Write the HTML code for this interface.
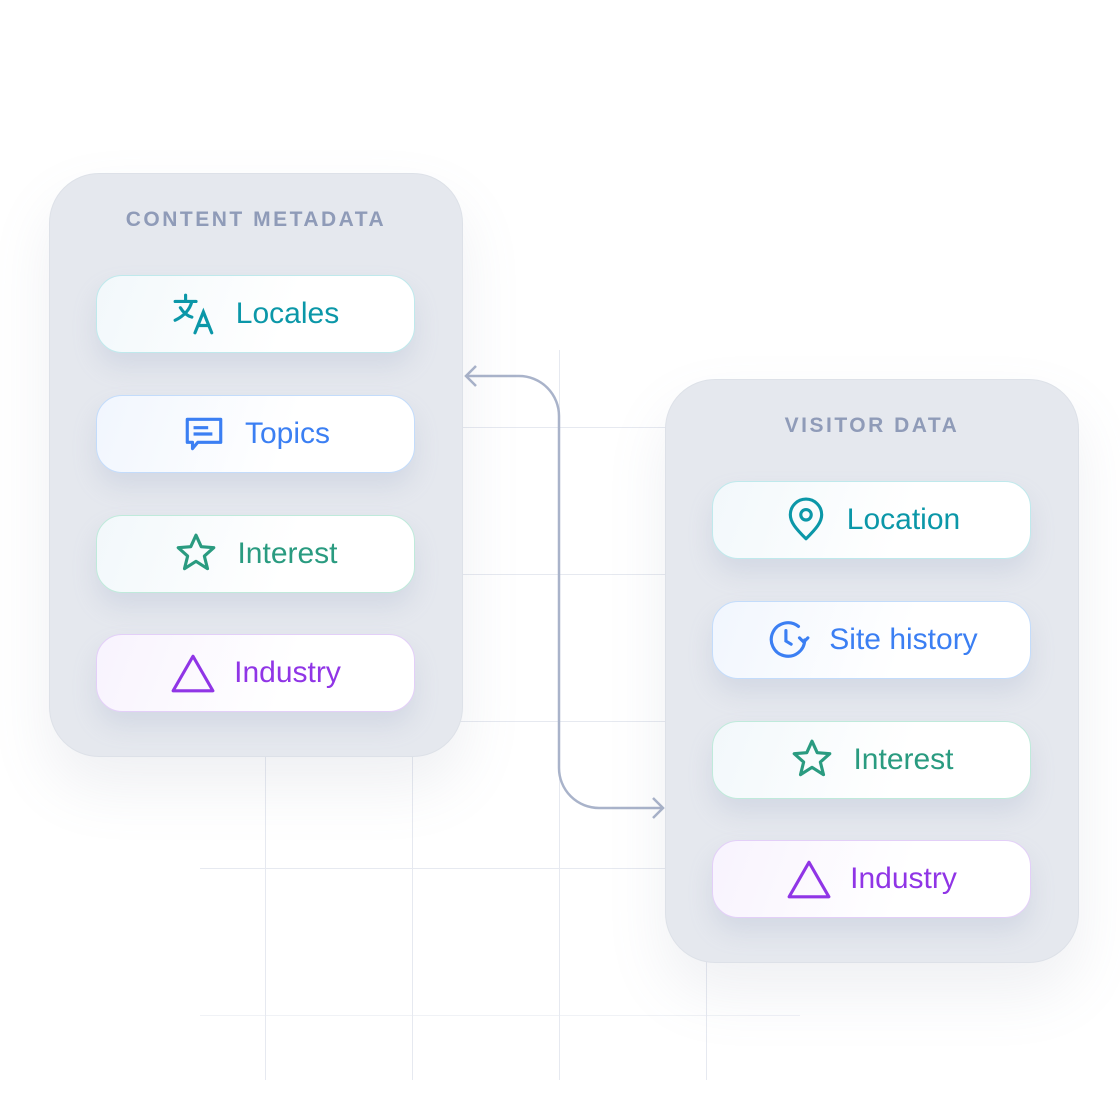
<!DOCTYPE html>
<html><head><meta charset="utf-8"><style>
body{margin:0;width:1120px;height:1120px;background:#fff;position:relative;overflow:hidden;font-family:"Liberation Sans",sans-serif}
.g{position:absolute;background:#e6e9f0}
.panel{position:absolute;width:412px;height:582px;background:#e5e8ee;border:1px solid #dde1e8;border-radius:50px;box-shadow:0 30px 60px rgba(120,130,160,0.12)}
.title{position:absolute;left:0;right:0;top:34px;text-align:center;font-weight:bold;font-size:21px;letter-spacing:2.5px;color:#8f9bb8}
.pill{position:absolute;left:46px;width:317px;height:76px;border-radius:26px;background:linear-gradient(110deg,#f2f8fb,#fff 60%);box-shadow:0 14px 24px rgba(150,165,195,0.22);display:flex;align-items:center;justify-content:center;font-size:30px;gap:18px}
.pill svg{width:46px;height:46px;flex:none}
.teal{color:#0b97a8;border:1px solid #bfe9ec}
.blue{color:#3b7ff3;border:1px solid #c3dcfb;background:linear-gradient(110deg,#f1f6fe,#fff 60%)}
.green{color:#2a9b80;border:1px solid #bfeadb}
.purple{color:#9035e6;border:1px solid #e3cff8;background:linear-gradient(110deg,#f8f3fe,#fff 60%)}
</style></head><body>
<div class="g" style="left:265px;top:420px;width:1px;height:660px"></div>
<div class="g" style="left:412px;top:420px;width:1px;height:660px"></div>
<div class="g" style="left:559px;top:350px;width:1px;height:730px"></div>
<div class="g" style="left:706px;top:420px;width:1px;height:660px"></div>
<div class="g" style="left:200px;top:427px;width:560px;height:1px"></div>
<div class="g" style="left:200px;top:574px;width:560px;height:1px"></div>
<div class="g" style="left:200px;top:721px;width:560px;height:1px"></div>
<div class="g" style="left:200px;top:868px;width:560px;height:1px"></div>
<div class="g" style="left:200px;top:1015px;width:600px;height:1px;opacity:.6"></div>
<svg style="position:absolute;left:0;top:0" width="1120" height="1120">
<path d="M466 376 H519 A40 40 0 0 1 559 416 V768 A40 40 0 0 0 599 808 H663" fill="none" stroke="#a9b3ca" stroke-width="2.5"/>
<path d="M476 366 L466 376 L476 386 M653 798 L663 808 L653 818" fill="none" stroke="#a9b3ca" stroke-width="2.5"/>
</svg>
<div class="panel" style="left:49px;top:173px">
<div class="title">CONTENT METADATA</div>
<div class="pill teal" style="top:101px"><svg viewBox="0 0 44 44" fill="none" stroke="#0b97a8" stroke-width="3" stroke-linecap="round"><path d="M3 10h20M13 4v6M19 10c-2 8-8 14-16 18M8 16c3 5 7 8 11 9M22 40l8-20 8 20M25 33h10"/></svg>Locales</div>
<div class="pill blue" style="top:221px"><svg viewBox="0 0 44 44" fill="none" stroke="#3b7ff3" stroke-width="3" stroke-linejoin="round"><path d="M6 8h32v22H16l-5 6v-6H6z"/><path d="M12 16h14M12 22h18"/></svg>Topics</div>
<div class="pill green" style="top:341px"><svg viewBox="0 0 44 44" fill="none" stroke="#2a9b80" stroke-width="3" stroke-linejoin="round"><path d="M22 4l5 11 12 1-9 8 3 12-11-7-11 7 3-12-9-8 12-1z"/></svg>Interest</div>
<div class="pill purple" style="top:460px"><svg viewBox="0 0 44 44" fill="none" stroke="#9035e6" stroke-width="3" stroke-linejoin="round"><path d="M22 6L41 39H3z"/></svg>Industry</div>
</div>
<div class="panel" style="left:665px;top:379px">
<div class="title">VISITOR DATA</div>
<div class="pill teal" style="top:101px"><svg viewBox="0 0 44 44" fill="none" stroke="#0b97a8" stroke-width="3" stroke-linejoin="round"><path d="M22 40C12 30 7 24 7 17a15 15 0 0 1 30 0c0 7-5 13-15 23z"/><circle cx="22" cy="17" r="5"/></svg>Location</div>
<div class="pill blue" style="top:221px"><svg viewBox="0 0 44 44" fill="none" stroke="#3b7ff3" stroke-width="3" stroke-linecap="round"><path d="M38 22A16 16 0 1 1 32 9"/><path d="M20 13v10l5 3M33 20l4 4 4-4"/></svg>Site history</div>
<div class="pill green" style="top:341px"><svg viewBox="0 0 44 44" fill="none" stroke="#2a9b80" stroke-width="3" stroke-linejoin="round"><path d="M22 4l5 11 12 1-9 8 3 12-11-7-11 7 3-12-9-8 12-1z"/></svg>Interest</div>
<div class="pill purple" style="top:460px"><svg viewBox="0 0 44 44" fill="none" stroke="#9035e6" stroke-width="3" stroke-linejoin="round"><path d="M22 6L41 39H3z"/></svg>Industry</div>
</div>
</body></html>
